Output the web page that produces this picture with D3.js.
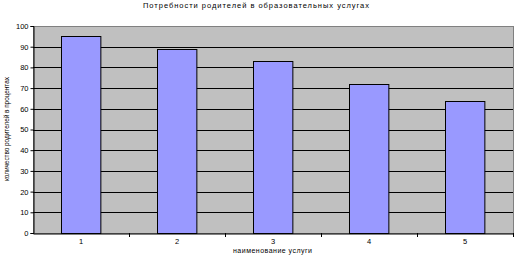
<!DOCTYPE html>
<html><head><meta charset="utf-8">
<script src="https://cdn.jsdelivr.net/npm/d3@7"></script>
<style>body{margin:0;background:#fff}svg{display:block}text{font-family:Arial,"Liberation Sans",sans-serif;fill:#000}</style>
</head><body>
<script>
const categories = ["1","2","3","4","5"];
const values = [95, 89, 83, 72, 64];
const yTicks = [0,10,20,30,40,50,60,70,80,90,100];
const title = "Потребности родителей в образовательных услугах";
const xTitle = "наименование услуги";
const yTitle = "количество родителей в процентах";

const W = 519, H = 258;
const m = {left: 33, top: 26, right: 6, bottom: 25};
const svg = d3.select("body").append("svg").attr("width", W).attr("height", H);
const x = d3.scaleBand().domain(categories).range([m.left, W - m.right]).paddingInner(0.59).paddingOuter(0.295);
const xb = d3.scaleBand().domain(categories).range([m.left, W - m.right]);
const y = d3.scaleLinear().domain([0, 100]).range([H - m.bottom, m.top]);

// plot area
svg.append("rect").attr("x", m.left).attr("y", m.top).attr("width", W - m.right - m.left).attr("height", H - m.bottom - m.top)
  .attr("fill", "#c0c0c0").attr("stroke", "#808080").attr("stroke-width", 1)
  .attr("shape-rendering", "crispEdges");

// gridlines
svg.append("g").selectAll("line").data(yTicks.filter(d => d > 0 && d < 100)).join("line")
  .attr("x1", m.left).attr("x2", W - m.right)
  .attr("y1", d => Math.round(y(d)) + 0.5).attr("y2", d => Math.round(y(d)) + 0.5)
  .attr("stroke", "#000").attr("stroke-width", 1);

// bars
svg.append("g").selectAll("rect").data(values).join("rect")
  .attr("x", (d, i) => Math.round(x(categories[i])) + 0.5)
  .attr("y", d => Math.round(y(d)) + 0.5)
  .attr("width", x.bandwidth())
  .attr("height", d => Math.round(y(0)) - Math.round(y(d)))
  .attr("fill", "#9999ff").attr("stroke", "#000").attr("stroke-width", 1);

// y axis
const ya = svg.append("g").attr("transform", `translate(${m.left + 0.5},0)`)
  .call(d3.axisLeft(y).tickValues(yTicks).tickSize(3).tickPadding(2));
ya.select(".domain").attr("stroke", "#000");
ya.selectAll("text").style("font-size", "7.5px").attr("font-family", "Arial");

// x axis
const xa = svg.append("g").attr("transform", `translate(0,${Math.round(y(0)) + 0.5})`)
  .call(d3.axisBottom(xb).tickSize(0).tickPadding(5));
xa.select(".domain").attr("stroke", "#000");
xa.selectAll("text").style("font-size", "7.5px").attr("font-family", "Arial");
// category boundary ticks
svg.append("g").selectAll("line").data(categories).join("line")
  .attr("x1", d => Math.round(xb(d) + xb.bandwidth()) + 0.5).attr("x2", d => Math.round(xb(d) + xb.bandwidth()) + 0.5)
  .attr("y1", Math.round(y(0))).attr("y2", Math.round(y(0)) + 4)
  .attr("stroke", "#000");

// titles
svg.append("text").attr("x", 143).attr("y", 8).attr("textLength", 226).attr("lengthAdjust", "spacing")
  .style("font-size", "7.5px").text(title);
svg.append("text").attr("x", 233).attr("y", 253).attr("textLength", 79).attr("lengthAdjust", "spacing")
  .style("font-size", "7px").text(xTitle);
svg.append("text").attr("transform", `translate(9,181) rotate(-90)`).attr("textLength", 104).attr("lengthAdjust", "spacing")
  .style("font-size", "6.5px").text(yTitle);
</script>
</body></html>
